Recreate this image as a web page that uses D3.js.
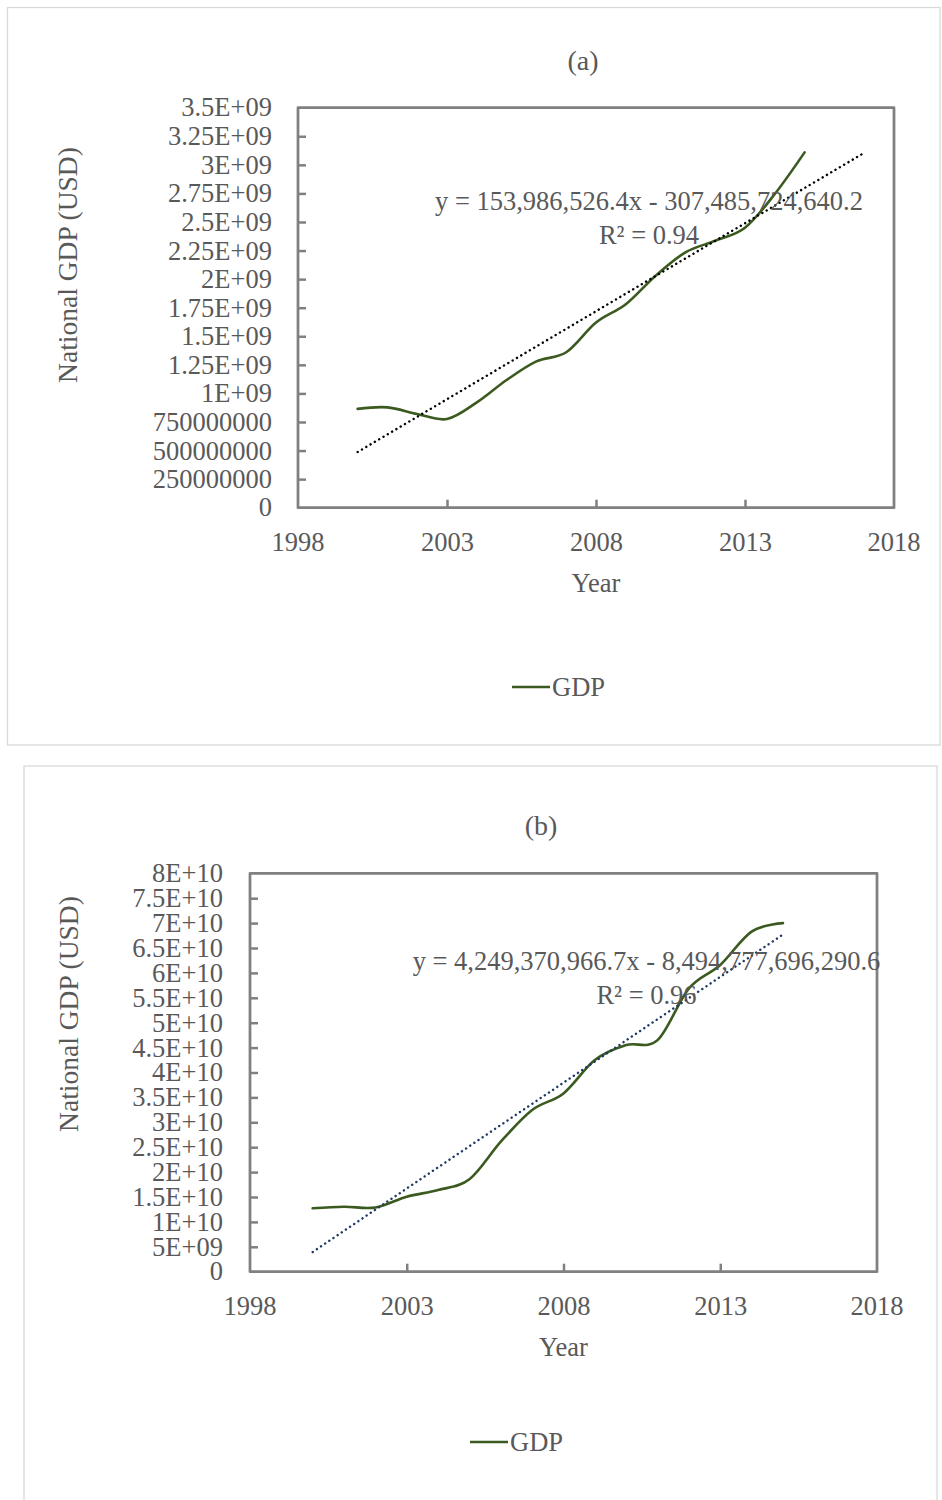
<!DOCTYPE html>
<html>
<head>
<meta charset="utf-8">
<script src="https://cdn.jsdelivr.net/npm/d3@7"></script>
<style>
  body { margin: 0; background: #fff; }
  svg { display: block; }
  text { font-family: "Liberation Serif", "DejaVu Serif", serif; fill: #595959; }
</style>
</head>
<body>
<svg id="chart" width="942" height="1500"></svg>
<script>
// ---- data ----
const years = [2000, 2001, 2002, 2003, 2004, 2005, 2006, 2007, 2008, 2009, 2010, 2011, 2012, 2013, 2014, 2015];

// panel (a) national GDP, USD
const gdpA = [0.865e9, 0.878e9, 0.820e9, 0.776e9, 0.921e9, 1.117e9, 1.280e9, 1.360e9,
              1.620e9, 1.780e9, 2.030e9, 2.234e9, 2.336e9, 2.450e9, 2.745e9, 3.109e9];
// panel (b) national GDP, USD
const gdpB = [1.273e10, 1.305e10, 1.290e10, 1.506e10, 1.640e10, 1.855e10, 2.610e10, 3.247e10,
              3.580e10, 4.250e10, 4.550e10, 4.650e10, 5.690e10, 6.160e10, 6.830e10, 7.000e10];

// linear trendlines: [slope, intercept], year span, R²
const trendCoefA = [153986526.4, -307485724640.2];
const trendSpanA = [2000, 2017];
const r2A = 0.94;
const trendCoefB = [4249370966.7, -8494777696290.6];
const trendSpanB = [2000, 2015];
const r2B = 0.96;

const xTicks = [1998, 2003, 2008, 2013, 2018];

const yTicksA = [0, 2.5e8, 5e8, 7.5e8, 1e9, 1.25e9, 1.5e9, 1.75e9, 2e9, 2.25e9, 2.5e9, 2.75e9, 3e9, 3.25e9, 3.5e9];
const yLabelsA = ["0", "250000000", "500000000", "750000000", "1E+09", "1.25E+09", "1.5E+09", "1.75E+09",
                  "2E+09", "2.25E+09", "2.5E+09", "2.75E+09", "3E+09", "3.25E+09", "3.5E+09"];

const yTicksB = [0, 5e9, 1e10, 1.5e10, 2e10, 2.5e10, 3e10, 3.5e10, 4e10, 4.5e10, 5e10, 5.5e10, 6e10, 6.5e10, 7e10, 7.5e10, 8e10];
const yLabelsB = ["0", "5E+09", "1E+10", "1.5E+10", "2E+10", "2.5E+10", "3E+10", "3.5E+10", "4E+10",
                  "4.5E+10", "5E+10", "5.5E+10", "6E+10", "6.5E+10", "7E+10", "7.5E+10", "8E+10"];

const seriesName = "GDP";
const xTitle = "Year";
const yTitle = "National GDP (USD)";

// ---- drawing ----
const svg = d3.select("#chart");
const FONT = 26.5;
const FRAME = "#808080";
const LINE = "#3b5a1f";
const fmtCoef = d3.format(",.1f");

function drawPanel(p) {
  const g = svg.append("g");

  // chart area border
  g.append("rect")
    .attr("x", p.box[0]).attr("y", p.box[1])
    .attr("width", p.box[2]).attr("height", p.box[3])
    .attr("fill", "#fff").attr("stroke", "#d9d9d9").attr("stroke-width", 1.3);

  // panel title
  g.append("text")
    .attr("x", p.titleX).attr("y", p.titleY)
    .attr("text-anchor", "middle").attr("font-size", 28)
    .text(p.title);

  const x = d3.scaleLinear().domain([xTicks[0], xTicks[xTicks.length - 1]]).range([p.plot.left, p.plot.right]);
  const y = d3.scaleLinear().domain([p.yTicks[0], p.yTicks[p.yTicks.length - 1]]).range([p.plot.bottom, p.plot.top]);

  // y axis: inward ticks, labels to the left
  const yAxis = g.append("g")
    .attr("transform", `translate(${p.plot.left},0)`)
    .call(d3.axisLeft(y).tickValues(p.yTicks.slice(1, -1))
      .tickSize(-8).tickPadding(p.yPad)
      .tickFormat(v => p.yLabels[p.yTicks.indexOf(v)]));
  yAxis.select(".domain").remove();
  // end labels (sit on the frame corners)
  [0, p.yTicks.length - 1].forEach(i => {
    yAxis.append("text")
      .attr("x", -p.yPad).attr("y", y(p.yTicks[i])).attr("dy", "0.32em")
      .attr("text-anchor", "end").text(p.yLabels[i]);
  });
  yAxis.selectAll("line").attr("stroke", FRAME).attr("stroke-width", 2.5);
  yAxis.selectAll("text").attr("font-size", FONT).attr("fill", "#595959")
    .attr("font-family", '"Liberation Serif", serif');

  // x axis
  const xAxis = g.append("g")
    .attr("transform", `translate(0,${p.plot.bottom})`)
    .call(d3.axisBottom(x).tickValues(xTicks.slice(1, -1))
      .tickSize(-8).tickPadding(24).tickFormat(d3.format("d")));
  xAxis.select(".domain").remove();
  [0, xTicks.length - 1].forEach(i => {
    xAxis.append("text")
      .attr("x", x(xTicks[i])).attr("y", 24).attr("dy", "0.71em")
      .attr("text-anchor", "middle").text(xTicks[i]);
  });
  xAxis.selectAll("line").attr("stroke", FRAME).attr("stroke-width", 2.5);
  xAxis.selectAll("text").attr("font-size", FONT).attr("fill", "#595959")
    .attr("font-family", '"Liberation Serif", serif');

  // plot frame
  g.append("rect")
    .attr("x", p.plot.left).attr("y", p.plot.top)
    .attr("width", p.plot.right - p.plot.left).attr("height", p.plot.bottom - p.plot.top)
    .attr("fill", "none").attr("stroke", FRAME).attr("stroke-width", 2.75)
    .attr("stroke-linejoin", "round");

  // smoothed GDP line
  const line = d3.line().x((d, i) => x(years[i])).y(d => y(d)).curve(d3.curveCardinal.tension(0));
  g.append("path").datum(p.values)
    .attr("d", line).attr("fill", "none")
    .attr("stroke", LINE).attr("stroke-width", 2.6).attr("stroke-linecap", "round");

  // linear trendline, dotted
  const tl = p.span.map(yr => [yr, p.coef[0] * yr + p.coef[1]]);
  g.append("path").datum(tl)
    .attr("d", d3.line().x(d => x(d[0])).y(d => y(d[1])))
    .attr("fill", "none").attr("stroke", p.trendColor).attr("stroke-width", 2.4)
    .attr("stroke-linecap", "round").attr("stroke-dasharray", "0.1 4.9");

  // trendline equation
  const eq = g.append("text").attr("text-anchor", "middle").attr("font-size", FONT);
  eq.append("tspan").attr("x", p.eqX).attr("y", p.eqY)
    .text(`y = ${fmtCoef(p.coef[0])}x - ${fmtCoef(-p.coef[1])}`);
  eq.append("tspan").attr("x", p.eqX).attr("y", p.eqY + 34)
    .text(`R² = ${p.r2.toFixed(2)}`);

  // axis titles
  g.append("text")
    .attr("x", (p.plot.left + p.plot.right) / 2).attr("y", p.xTitleY)
    .attr("text-anchor", "middle").attr("dy", "0.35em").attr("font-size", FONT)
    .text(xTitle);
  g.append("text")
    .attr("transform", `translate(${p.yTitleX},${p.yTitleY}) rotate(-90)`)
    .attr("text-anchor", "middle").attr("dy", "0.35em").attr("font-size", 27.5)
    .text(yTitle);

  // legend
  g.append("line")
    .attr("x1", p.legendX).attr("x2", p.legendX + 38)
    .attr("y1", p.legendY).attr("y2", p.legendY)
    .attr("stroke", LINE).attr("stroke-width", 2.6);
  g.append("text")
    .attr("x", p.legendX + 40).attr("y", p.legendY).attr("dy", "0.35em")
    .attr("font-size", FONT).text(seriesName);
}

drawPanel({
  box: [7.5, 7.5, 932.5, 737.5],
  title: "(a)", titleX: 583, titleY: 70,
  plot: { left: 298, top: 107.7, right: 894, bottom: 507.7 },
  yTicks: yTicksA, yLabels: yLabelsA, yPad: 26,
  values: gdpA, coef: trendCoefA, span: trendSpanA, r2: r2A, trendColor: "#000",
  eqX: 649, eqY: 210,
  xTitleY: 583, yTitleX: 67.5, yTitleY: 265,
  legendX: 512, legendY: 687
});

drawPanel({
  box: [24, 766, 913, 760],
  title: "(b)", titleX: 541, titleY: 835,
  plot: { left: 250, top: 873.3, right: 877, bottom: 1271.7 },
  yTicks: yTicksB, yLabels: yLabelsB, yPad: 27,
  values: gdpB, coef: trendCoefB, span: trendSpanB, r2: r2B, trendColor: "#1f3864",
  eqX: 646.5, eqY: 970,
  xTitleY: 1347, yTitleX: 68, yTitleY: 1014,
  legendX: 470, legendY: 1442
});
</script>
</body>
</html>
